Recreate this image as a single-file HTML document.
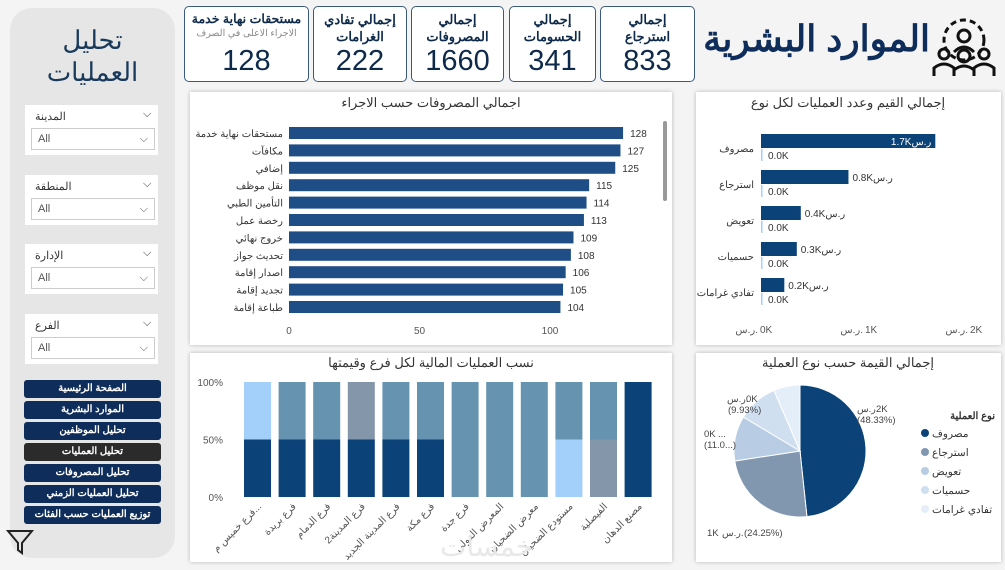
<!DOCTYPE html>
<html><head><meta charset="utf-8">
<style>
*{box-sizing:border-box;margin:0;padding:0}
body{width:1005px;height:570px;background:#f4f4f4;font-family:"Liberation Sans","Noto Sans CJK SC",sans-serif;position:relative;overflow:hidden}
.abs{position:absolute}
.card{position:absolute;top:6px;height:76px;background:#fff;border:1px solid #3a5a7c;border-radius:5px;text-align:center;color:#0e2a4a}
.card .t{font-weight:bold;font-size:13px;line-height:17px;margin-top:4px;white-space:nowrap}
.card .v{font-size:29px;position:absolute;bottom:3px;left:0;right:0}
.panel{position:absolute;background:#fff;box-shadow:0 0 4px rgba(0,0,0,.25)}
.filt{position:absolute;left:25px;width:133px;height:50px;background:#fff;font-size:11px;color:#333}
.filt .lab{position:absolute;left:10px;top:5px}
.filt .box{position:absolute;left:6px;right:3px;top:23px;height:22px;border:1px solid #ccc;font-size:11px;padding:4px 6px;color:#555}
.nav{position:absolute;left:24px;width:137px;height:18px;background:#0e2d5a;color:#fff;font-size:10px;font-weight:bold;text-align:center;line-height:18px;border-radius:3px}
</style></head><body>
<div class="abs" style="left:10px;top:8px;width:165px;height:550px;background:#e6e6e6;border-radius:22px"></div>
<div class="abs" style="left:20px;top:24px;width:145px;text-align:center;font-size:26px;color:#1a3a5c;line-height:32px">تحليل<br>العمليات</div>
<div class="filt" style="top:105px"><span class="lab">المدينة</span><span class="abs" style="left:118px;top:3px">⌵</span><div class="box">All<span style="float:right">⌵</span></div></div>
<div class="filt" style="top:175px"><span class="lab">المنطقة</span><span class="abs" style="left:118px;top:3px">⌵</span><div class="box">All<span style="float:right">⌵</span></div></div>
<div class="filt" style="top:244px"><span class="lab">الإدارة</span><span class="abs" style="left:118px;top:3px">⌵</span><div class="box">All<span style="float:right">⌵</span></div></div>
<div class="filt" style="top:314px"><span class="lab">الفرع</span><span class="abs" style="left:118px;top:3px">⌵</span><div class="box">All<span style="float:right">⌵</span></div></div>
<div class="nav" style="top:380px">الصفحة الرئيسية</div>
<div class="nav" style="top:401px">الموارد البشرية</div>
<div class="nav" style="top:422px">تحليل الموظفين</div>
<div class="nav" style="top:443px;background:#2b2b2b">تحليل العمليات</div>
<div class="nav" style="top:464px">تحليل المصروفات</div>
<div class="nav" style="top:485px">تحليل العمليات الزمني</div>
<div class="nav" style="top:506px">توزيع العمليات حسب الفئات</div>
<svg class="abs" style="left:6px;top:528px" width="28" height="28"><path d="M2 3 H26 L16 15 V25 L12 22 V15 Z" fill="none" stroke="#222" stroke-width="2"/></svg>

<div class="card" style="left:184px;width:125px"><div class="t" style="font-size:12.5px">مستحقات نهاية خدمة</div><div style="font-size:9.5px;color:#888">الاجراء الاعلى في الصرف</div><div class="v">128</div></div>
<div class="card" style="left:313px;width:94px"><div class="t">إجمالي تفادي<br>الغرامات</div><div class="v">222</div></div>
<div class="card" style="left:411px;width:93px"><div class="t">إجمالي<br>المصروفات</div><div class="v">1660</div></div>
<div class="card" style="left:509px;width:87px"><div class="t">إجمالي<br>الحسومات</div><div class="v">341</div></div>
<div class="card" style="left:600px;width:95px"><div class="t">إجمالي<br>استرجاع</div><div class="v">833</div></div>
<div class="abs" style="left:698px;top:18px;width:232px;font-size:36px;font-weight:bold;color:#0e2d5a;text-align:right">الموارد البشرية</div>
<svg class="abs" style="left:930px;top:12px" width="68" height="66"><g fill="none" stroke="#111" stroke-width="3"><circle cx="34" cy="28" r="20" stroke-dasharray="6 4"/><circle cx="34" cy="24" r="6"/><path d="M24 40 Q34 30 44 40"/><circle cx="14" cy="42" r="5"/><circle cx="54" cy="42" r="5"/><circle cx="34" cy="44" r="6"/><path d="M4 64 V56 Q14 48 24 56 V64 M44 64 V56 Q54 48 64 56 V64 M24 64 V58 Q34 50 44 58 V64"/></g></svg>

<div class="panel" style="left:190px;top:92px;width:482px;height:253px"></div>
<div class="panel" style="left:696px;top:92px;width:305px;height:253px"></div>
<div class="panel" style="left:190px;top:353px;width:482px;height:209px"></div>
<div class="panel" style="left:696px;top:353px;width:305px;height:209px"></div>

<svg class="abs" style="left:0;top:0" width="1005" height="570" id="ch" font-family="Liberation Sans, Noto Sans CJK SC, sans-serif"></svg>
<div class="abs" style="left:440px;top:530px;font-size:28px;color:#e8e8e8">خمسات</div>
<script>
const procCats=["مستحقات نهاية خدمة","مكافآت","إضافي","نقل موظف","التأمين الطبي","رخصة عمل","خروج نهائي","تحديث جواز","اصدار إقامة","تجديد إقامة","طباعة إقامة"];
const procVals=[128,127,125,115,114,113,109,108,106,105,104];
const procTicks=[0,50,100];
const typeCats=["مصروف","استرجاع","تعويض","حسميات","تفادي غرامات"];
const typeVals=[1660,833,379,341,222];
const typeCounts=[0,0,0,0,0];
const typeLabels=["1.7K","0.8K","0.4K","0.3K","0.2K"];
const typeTicks=[0,1000,2000];
const typeTickLabels=["0K","1K","2K"];
const branchCats=["فرع خميس م...","فرع بريدة","فرع الدمام","فرع المدينة2","فرع المدينة الجديد","فرع مكة","فرع جدة","المعرض الدولي","معرض الضحيان","مستودع الضحيان","الفيصلية","مصنع الدهان"];
const sExpense=[1,1,1,1,1,1,0,0,0,0,0,1];
const sComp=[0,0,0,1,0,0,0,0,0,0,1,0];
const sDeduct=[1,0,0,0,0,0,0,0,0,1,0,0];
const sRefund=[0,1,1,0,1,1,1,1,1,1,1,0];
const pieVals=[1660,833,379,341,222];
const pieCats=["مصروف","استرجاع","تعويض","حسميات","تفادي غرامات"];

const svg=document.getElementById('ch');const NS="http://www.w3.org/2000/svg";
function mk(t,a,txt){const e=document.createElementNS(NS,t);for(const k in a)e.setAttribute(k,a[k]);if(txt!==undefined)e.textContent=txt;svg.appendChild(e);return e;}
function cur(x,y,num,col,anchorEnd,nm){
 const g=mk('text',{x:x,y:y,'font-size':10,fill:col,'text-anchor':anchorEnd?'end':'start'});
 
 const a=document.createElementNS(NS,'tspan');a.textContent=num;g.appendChild(a);
 const b=document.createElementNS(NS,'tspan');b.textContent="ر.س";g.appendChild(b);
 return g;}
let e;
e=mk('text',{x:431,y:107,'text-anchor':'middle','font-size':13,fill:'#333'},"اجمالي المصروفات حسب الاجراء");

e=mk('text',{x:848,y:107,'text-anchor':'middle','font-size':13,fill:'#333'},"إجمالي القيم وعدد العمليات لكل نوع");

e=mk('text',{x:431,y:367,'text-anchor':'middle','font-size':13,fill:'#333'},"نسب العمليات المالية لكل فرع وقيمتها");

e=mk('text',{x:848,y:367,'text-anchor':'middle','font-size':13,fill:'#333'},"إجمالي القيمة حسب نوع العملية");


// chart 1
const x1=v=>289+v*2.61;const y1=i=>127+i*17.4;
procTicks.forEach(t=>{e=mk('text',{x:x1(t),y:334,'text-anchor':'middle','font-size':10,fill:'#555'},t);
});
procCats.forEach((c,i)=>{
 e=mk('rect',{x:x1(0),y:y1(i),width:x1(procVals[i])-x1(0),height:12,fill:'#1f4e86'});
 
 e=mk('text',{x:283,y:y1(i)+10,'text-anchor':'end','font-size':10,fill:'#333'},c);
 
 e=mk('text',{x:x1(procVals[i])+7,y:y1(i)+10,'font-size':10,fill:'#333'},procVals[i]);
 
});
e=mk('rect',{x:663,y:121,width:4,height:80,fill:'#999',rx:2});


// chart 2
const x2=v=>761+v*0.105;const y2=i=>134+i*36;
typeTicks.forEach((t,i)=>{
 e=mk('text',{x:x2(t)-3,y:333,'text-anchor':'end','font-size':10,fill:'#555'},"ر.س.");
 
 e=mk('text',{x:x2(t)-1,y:333,'font-size':10,fill:'#555'},typeTickLabels[i]);
 });
typeCats.forEach((c,i)=>{
 const w=x2(typeVals[i])-x2(0);
 e=mk('rect',{x:x2(0),y:y2(i),width:w,height:14,fill:'#0b4379'});
 
 e=mk('rect',{x:x2(0),y:y2(i)+15,width:Math.max(1.5,x2(typeCounts[i])-x2(0)),height:12,fill:'#a3d0fb'});
 
 const inside=w>150;
 cur(inside?x2(typeVals[i])-4:x2(typeVals[i])+4,y2(i)+11,typeLabels[i],inside?'#fff':'#333',inside,'value-label');
 e=mk('text',{x:768,y:y2(i)+25,'font-size':10,fill:'#333'},(typeCounts[i]/1000).toFixed(1)+"K");
 
 e=mk('text',{x:754,y:y2(i)+18,'text-anchor':'end','font-size':10,fill:'#333'},c);
 
});

// chart 3 stacked
const y3=p=>497-p*115;const x3=i=>244+i*34.6;
[[0,"0%"],[0.5,"50%"],[1,"100%"]].forEach(t=>{e=mk('text',{x:223,y:y3(t[0])+4,'text-anchor':'end','font-size':10,fill:'#555'},t[1]);
});
const series=[[sExpense,'#0b4379'],[sComp,'#8496aa'],[sDeduct,'#a3d0fb'],[sRefund,'#6693b0']];
branchCats.forEach((c,i)=>{
 const tot=series.reduce((s,a)=>s+a[0][i],0);let acc=0;
 series.forEach(([arr,col])=>{ if(!arr[i])return; const f=arr[i]/tot;
  e=mk('rect',{x:x3(i),y:y3(acc+f),width:27,height:y3(acc)-y3(acc+f),fill:col});
  
  acc+=f;});
 e=mk('text',{x:x3(i)+18,y:507,'text-anchor':'end','font-size':10,fill:'#555',transform:`rotate(-45 ${x3(i)+18} 507)`},c);
 
});

// pie
const cx=800,cy=451,r=66;const pieCols=['#0b4379','#8197b0','#b8cde4','#cfdff0','#e4eef9'];
const tot=pieVals.reduce((a,b)=>a+b,0);let ang=-Math.PI/2;
pieVals.forEach((v,i)=>{const a2=ang+v/tot*2*Math.PI;
 const p=(a)=>[cx+r*Math.cos(a),cy+r*Math.sin(a)];const [xa,ya]=p(ang),[xb,yb]=p(a2);
 e=mk('path',{d:`M${cx} ${cy} L${xa} ${ya} A${r} ${r} 0 ${a2-ang>Math.PI?1:0} 1 ${xb} ${yb} Z`,fill:pieCols[i],stroke:'#fff','stroke-width':1});
 
 ang=a2;});
function pl(x,y,s){e=mk('text',{x:x,y:y,'font-size':9.5,fill:'#444'},s);
 }
pl(857,412,"ر.س.");pl(876,412,"2K");pl(857,423,"(48.33%)");
pl(727,402,"ر.س.");pl(746,402,"0K");pl(728,413,"(9.93%)");
pl(704,437,"0K");pl(718,437,"...");pl(704,448,"(11.0...)");
pl(707,536,"1K");pl(722,536,"ر.س.");pl(744,536,"(24.25%)");
e=mk('text',{x:995,y:419,'text-anchor':'end','font-size':10,'font-weight':'bold',fill:'#333'},"نوع العملية");

pieCats.forEach((c,i)=>{const y=433+i*19;
 e=mk('circle',{cx:925,cy:y,r:4,fill:pieCols[i]});
 
 e=mk('text',{x:932,y:y+4,'font-size':10.5,fill:'#333'},c);
 });
</script>
</body></html>
